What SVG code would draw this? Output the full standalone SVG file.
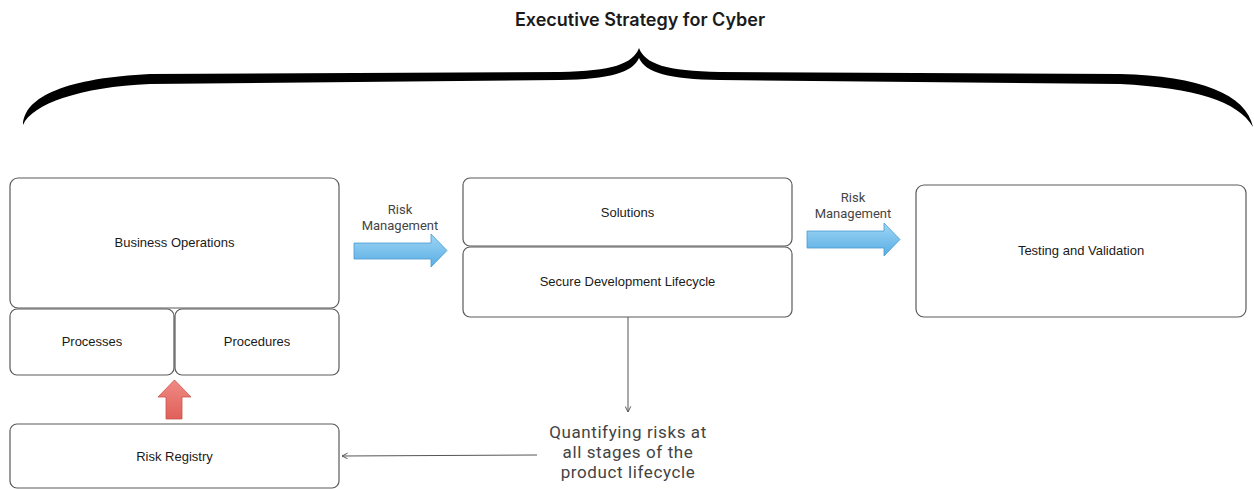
<svg xmlns="http://www.w3.org/2000/svg" width="1254" height="489" viewBox="0 0 1254 489">
  <style>
    .box { fill: #ffffff; stroke: #5a5a5a; stroke-width: 1.2; }
    .lbl { font-family: "Liberation Sans", Arial, sans-serif; font-size: 13px; fill: #1a1a1a; text-anchor: middle; }
    .flow { font-family: Roboto, "Noto Sans", sans-serif; font-size: 13px; fill: #444444; text-anchor: middle; }
    .note { font-family: Roboto, "Noto Sans", sans-serif; font-size: 17px; font-weight: 400; letter-spacing: 0.6px; fill: #444444; text-anchor: middle; }
    .title { font-family: Inter, "Noto Sans", sans-serif; font-size: 18px; font-weight: 600; fill: #1a1a1a; text-anchor: middle; }
    .link { fill: none; stroke: #555555; stroke-width: 1; }
    .blue { fill: url(#blueGrad); stroke: #4a9bd1; stroke-width: 0.8; }
    .red { fill: url(#redGrad); stroke: #c9534d; stroke-width: 0.8; }
  </style>
  <defs>
    <linearGradient id="blueGrad" x1="0" y1="0" x2="0" y2="1">
      <stop offset="0" stop-color="#9fd6f6"/>
      <stop offset="1" stop-color="#58ade3"/>
    </linearGradient>
    <linearGradient id="redGrad" x1="0" y1="0" x2="0" y2="1">
      <stop offset="0" stop-color="#f08a84"/>
      <stop offset="1" stop-color="#e0605a"/>
    </linearGradient>
    <marker id="chev" viewBox="0 0 10 10" refX="9" refY="5" markerWidth="7" markerHeight="7" orient="auto-start-reverse" markerUnits="userSpaceOnUse">
      <path d="M1,1 L9,5 L1,9" fill="none" stroke="#555555" stroke-width="1.4"/>
    </marker>
  </defs>

  <rect width="1254" height="489" fill="#ffffff"/>

  <!-- title and the brace spanning the whole strategy -->
  <g id="title">
    <text class="title" x="640" y="26">Executive Strategy for Cyber</text>
    <path fill="#000000" d="M23,125 C24,96 68,78 150,74 L560,72 C612,71 633,64 639,48 C645,64 666,71 720,72 L1120,74 C1200,76 1246,94 1253,127 C1238,101 1195,88 1120,84 L720,80 C668,79 646,73 639,58 C632,73 610,79 560,80 L150,84 C80,87 32,104 23,125 Z"/>
  </g>

  <!-- connectors -->
  <g id="connectors">
    <path class="blue" d="M354,243 L431,243 L431,234 L447,250.5 L431,267 L431,259 L354,259 Z"/>
    <path class="blue" d="M807,231 L884,231 L884,223 L900,239.5 L884,256 L884,248 L807,248 Z"/>
    <path class="red" d="M166,419 L166,397 L158,397 L174.5,380 L191,397 L182,397 L182,419 Z"/>
    <line class="link" x1="628" y1="317" x2="628" y2="412" marker-end="url(#chev)"/>
    <line class="link" x1="537" y1="455" x2="342" y2="456" marker-end="url(#chev)"/>
  </g>

  <g id="label-risk-1">
    <text class="flow" x="400" y="214">Risk</text>
    <text class="flow" x="400" y="230">Management</text>
  </g>
  <g id="label-risk-2">
    <text class="flow" x="853" y="202">Risk</text>
    <text class="flow" x="853" y="218">Management</text>
  </g>
  <g id="label-quantify">
    <text class="note" x="628" y="438">Quantifying risks at</text>
    <text class="note" x="628" y="458">all stages of the</text>
    <text class="note" x="628" y="478">product lifecycle</text>
  </g>

  <!-- nodes -->
  <g id="business-operations">
    <rect class="box" x="10" y="178" width="329" height="130" rx="8"/>
    <text class="lbl" x="174.5" y="247">Business Operations</text>
  </g>
  <g id="processes">
    <rect class="box" x="10" y="309" width="164" height="66" rx="7"/>
    <text class="lbl" x="92" y="346">Processes</text>
  </g>
  <g id="procedures">
    <rect class="box" x="175" y="309" width="164" height="66" rx="7"/>
    <text class="lbl" x="257" y="346">Procedures</text>
  </g>
  <g id="risk-registry">
    <rect class="box" x="10" y="424" width="329" height="64" rx="7"/>
    <text class="lbl" x="174.5" y="461">Risk Registry</text>
  </g>
  <g id="solutions">
    <rect class="box" x="463" y="178" width="329" height="68" rx="7"/>
    <text class="lbl" x="627.5" y="217">Solutions</text>
  </g>
  <g id="secure-development-lifecycle">
    <rect class="box" x="463" y="247" width="329" height="70" rx="7"/>
    <text class="lbl" x="627.5" y="286">Secure Development Lifecycle</text>
  </g>
  <g id="testing-validation">
    <rect class="box" x="916" y="185" width="330" height="132" rx="8"/>
    <text class="lbl" x="1081" y="255">Testing and Validation</text>
  </g>
</svg>
